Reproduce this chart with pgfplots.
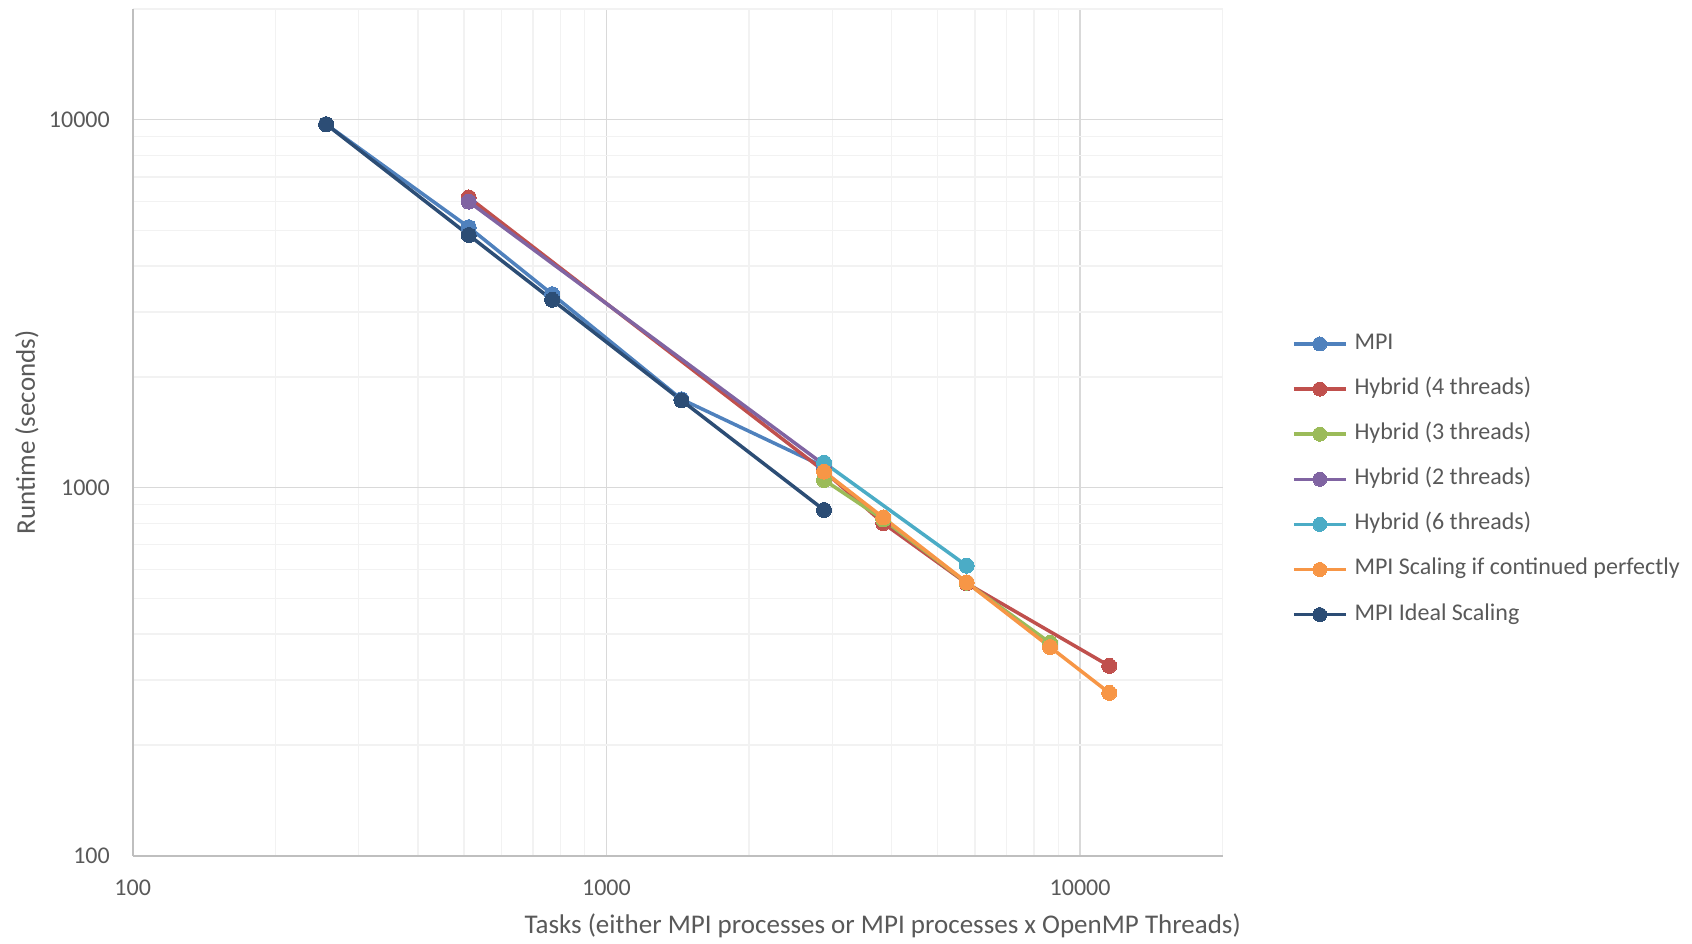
\documentclass[border=0pt]{standalone}
\usepackage{pgfplots}
\pgfplotsset{compat=1.18}
\usepackage{fontspec}
\setmainfont{Carlito}
\definecolor{cMPI}{HTML}{4F81BD}
\definecolor{cRed}{HTML}{C0504D}
\definecolor{cGreen}{HTML}{9BBB59}
\definecolor{cPurple}{HTML}{8064A2}
\definecolor{cCyan}{HTML}{4BACC6}
\definecolor{cOrange}{HTML}{F79646}
\definecolor{cNavy}{HTML}{2C4D75}
\definecolor{txt}{HTML}{595959}
\begin{document}
\begin{tikzpicture}
\useasboundingbox (0,0) rectangle (1692pt,943pt);
\begin{axis}[
  at={(132.7pt,87.3pt)}, anchor=south west,
  scale only axis, width=1090pt, height=846.7pt,
  xmode=log, ymode=log,
  xmin=100, xmax=20000, ymin=100, ymax=20000,
  axis x line*=bottom, axis y line*=left,
  axis line style={draw=black!25, line width=2pt, -},
  xtick={100,1000,10000}, xticklabels={100,1000,10000},
  ytick={100,1000,10000}, yticklabels={100,1000,10000},
  minor xtick={200,300,400,500,600,700,800,900,2000,3000,4000,5000,6000,7000,8000,9000,20000},
  minor ytick={200,300,400,500,600,700,800,900,2000,3000,4000,5000,6000,7000,8000,9000,20000},
  major tick length=0pt, minor tick length=0pt,
  grid=both,
  major grid style={draw=black!15, line width=1.5pt},
  minor grid style={draw=black!5, line width=1.5pt},
  /pgf/number format/assume math mode=true,
  tick label style={font=\fontsize{24}{28}\selectfont, text=txt},
  xticklabel style={anchor=north, inner sep=0pt, yshift=-24pt},
  yticklabel style={anchor=east, inner sep=0pt, xshift=-22.7pt},
  label style={font=\fontsize{27}{32}\selectfont, text=txt},
  xlabel={Tasks (either MPI processes or MPI processes x OpenMP Threads)},
  xlabel style={at={(axis description cs:0.688,-0.083)}, anchor=center},
  ylabel={Runtime (seconds)},
  ylabel style={at={(axis description cs:-0.097,0.5)}, anchor=center},
  every axis plot/.append style={line width=3.5pt, mark=*, mark size=7.5pt, mark options={solid, line width=0pt}},
  legend cell align=left,
  legend style={at={(axis description cs:1.0634,0.617)}, anchor=north west,
    draw=none, fill=none, font=\fontsize{24}{28}\selectfont, text=txt,
    row sep=24.1pt, column sep=0pt, inner sep=0pt,
    nodes={text height=16pt, text depth=5pt, inner sep=0pt, anchor=west}},
  legend image code/.code={%
    \draw[line width=3.5pt, mark size=7pt, mark repeat=2, mark phase=2] plot coordinates {(0pt,0pt) (26pt,0pt) (52pt,0pt)};
    \path (59pt,0pt);},
]
\addplot[color=cMPI] coordinates {(256,9722) (512,5106) (768,3357) (1440,1740) (2880,1140)};
\addlegendentry{MPI}
\addplot[color=cRed] coordinates {(512,6152) (2880,1110) (3840,801) (5760,550) (11520,328)};
\addlegendentry{Hybrid (4 threads)}
\addplot[color=cGreen] coordinates {(2880,1050) (3840,820) (5760,552) (8640,379)};
\addlegendentry{Hybrid (3 threads)}
\addplot[color=cPurple] coordinates {(512,5991) (2880,1155)};
\addlegendentry{Hybrid (2 threads)}
\addplot[color=cCyan] coordinates {(2880,1170) (5760,614)};
\addlegendentry{Hybrid (6 threads)}
\addplot[color=cOrange] coordinates {(2880,1106) (3840,830) (5760,553) (8640,369) (11520,277)};
\addlegendentry{MPI Scaling if continued perfectly}
\addplot[color=cNavy] coordinates {(256,9722) (512,4861) (768,3241) (1440,1728) (2880,870)};
\addlegendentry{MPI Ideal Scaling}
\end{axis}
\end{tikzpicture}
\end{document}
